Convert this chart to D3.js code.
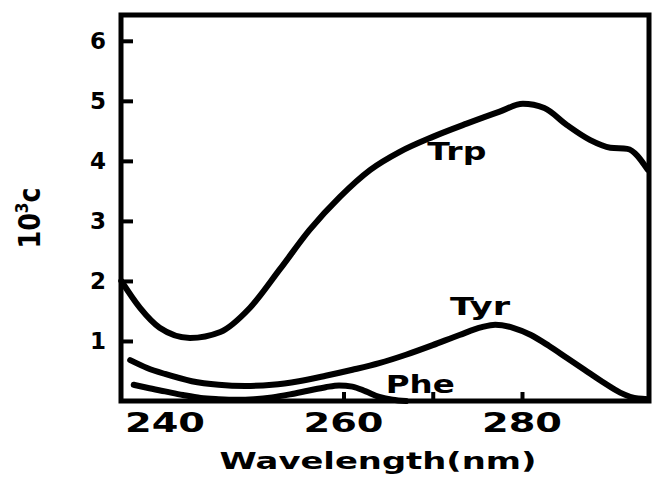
<!DOCTYPE html>
<html>
<head>
<meta charset="utf-8">
<script src="https://cdn.jsdelivr.net/npm/d3@7"></script>
<style>
  html, body { margin: 0; padding: 0; background: #fff; }
  svg { display: block; }
  text { font-family: "DejaVu Sans", "Liberation Sans", sans-serif; font-weight: bold; fill: #000; }
</style>
</head>
<body>
<svg id="chart" width="652" height="477"></svg>
<script>
// ---- data ----
const trpWavelength = [235.1, 237.2, 239.4, 242.8, 246.2, 249.5, 252.9, 256.2, 259.6, 263.0, 266.3, 270.0, 273.8, 277.5, 280.1, 282.5, 285.0, 287.6, 289.9, 291.8, 294.1];
const trpValue      = [2.0,   1.55,  1.22,  1.05,  1.15,  1.55,  2.2,   2.85,  3.4,   3.85,  4.15,  4.4,   4.62,  4.82,  4.95,  4.88,  4.6,   4.35,  4.22,  4.2,   3.85];

const tyrWavelength = [236.1, 238, 240, 243, 246, 249, 252, 255, 258, 261, 264, 267, 270, 273, 275.5, 277, 279, 281, 283, 285, 287, 289, 291, 293, 294.1];
const tyrValue      = [0.68, 0.55, 0.45, 0.33, 0.27, 0.25, 0.27, 0.33, 0.42, 0.52, 0.63, 0.77, 0.93, 1.1, 1.23, 1.27, 1.22, 1.1, 0.92, 0.72, 0.52, 0.32, 0.14, 0.04, 0.03];

const pheWavelength = [236.5, 238, 240, 242, 244, 246, 248, 250, 252, 254, 256, 258, 259.5, 261, 262.5, 264, 265.5, 267];
const pheValue      = [0.27, 0.22, 0.16, 0.1, 0.05, 0.03, 0.02, 0.03, 0.06, 0.11, 0.17, 0.23, 0.26, 0.24, 0.16, 0.07, 0.02, 0.0];

const xTickLabels = [240, 260, 280];
const xMinorTicks = [260, 270, 280];
const yTickValues = [1, 2, 3, 4, 5, 6];
const seriesNames = ["Trp", "Tyr", "Phe"];
const xTitle = "Wavelength(nm)";

// ---- layout ----
const svg = d3.select("#chart");
const frameL = 121, frameR = 649, frameT = 15, frameB = 401;
const x = d3.scaleLinear().domain([235.07, 294.23]).range([frameL, frameR]);
const y = d3.scaleLinear().domain([0, 6.43]).range([frameB, frameT]);

const line = d3.line().x(d => x(d[0])).y(d => y(d[1])).curve(d3.curveMonotoneX);
const series = [
  d3.zip(trpWavelength, trpValue),
  d3.zip(tyrWavelength, tyrValue),
  d3.zip(pheWavelength, pheValue)
];

// curves
svg.append("g").selectAll("path").data(series).join("path")
  .attr("d", line)
  .attr("fill", "none")
  .attr("stroke", "#000")
  .attr("stroke-width", 6)
  .attr("stroke-linecap", "round")
  .attr("stroke-linejoin", "round");

// frame
svg.append("rect")
  .attr("x", frameL).attr("y", frameT)
  .attr("width", frameR - frameL).attr("height", frameB - frameT)
  .attr("fill", "none").attr("stroke", "#000").attr("stroke-width", 5);

// y axis: inward ticks
const yAxis = svg.append("g").attr("transform", `translate(${frameL},0)`)
  .call(d3.axisRight(y).tickValues(yTickValues).tickSize(12).tickFormat(""));
yAxis.select(".domain").remove();
yAxis.selectAll(".tick line").attr("stroke", "#000").attr("stroke-width", 4);

svg.append("g").selectAll("text").data(yTickValues).join("text")
  .attr("x", 106).attr("y", d => y(d) + 8.5)
  .attr("text-anchor", "end")
  .attr("font-size", 23)
  .text(d => d);

// x axis: inward ticks
const xAxis = svg.append("g").attr("transform", `translate(0,${frameB})`)
  .call(d3.axisTop(x).tickValues(xMinorTicks).tickSize(9).tickFormat(""));
xAxis.select(".domain").remove();
xAxis.selectAll(".tick line").attr("stroke", "#000").attr("stroke-width", 4);

svg.append("g").selectAll("text").data(xTickLabels).join("text")
  .attr("x", d => x(d)).attr("y", 432)
  .attr("text-anchor", "middle")
  .attr("font-size", 27)
  .attr("textLength", 80).attr("lengthAdjust", "spacingAndGlyphs")
  .text(d => d);

// x title
svg.append("text")
  .attr("x", 378).attr("y", 469)
  .attr("text-anchor", "middle")
  .attr("font-size", 23)
  .attr("textLength", 317).attr("lengthAdjust", "spacingAndGlyphs")
  .text(xTitle);

// y title (rotated)
const yt = svg.append("text")
  .attr("transform", "translate(40,218) rotate(-90)")
  .attr("text-anchor", "middle")
  .attr("font-size", 30)
  .attr("textLength", 61).attr("lengthAdjust", "spacingAndGlyphs");
yt.append("tspan").text("10");
yt.append("tspan").attr("font-size", 18).attr("dy", -12).text("3");
yt.append("tspan").attr("dy", 12).text("c");

// series labels (anchored in data coordinates)
const labelAnchor = [[272.7, 4.02], [275.3, 1.43], [268.6, 0.13]];
const labelWidth = [59, 60, 69];
svg.append("g").selectAll("text").data(seriesNames).join("text")
  .attr("x", (d, i) => x(labelAnchor[i][0]))
  .attr("y", (d, i) => y(labelAnchor[i][1]))
  .attr("text-anchor", "middle")
  .attr("font-size", 25)
  .attr("textLength", (d, i) => labelWidth[i]).attr("lengthAdjust", "spacingAndGlyphs")
  .text(d => d);
</script>
</body>
</html>
